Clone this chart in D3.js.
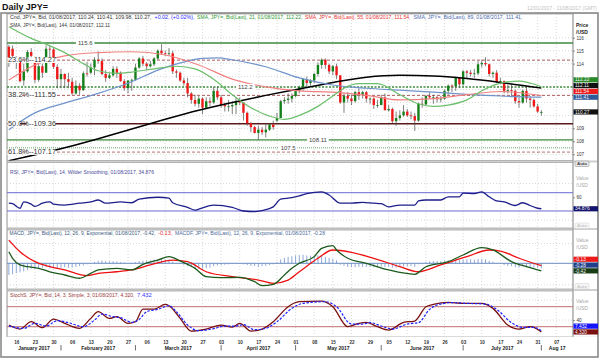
<!DOCTYPE html>
<html><head><meta charset="utf-8">
<script src="https://cdn.jsdelivr.net/npm/d3@7"></script>
<style>body{margin:0;background:#fff}svg{display:block;font-family:"Liberation Sans",Arial,sans-serif}</style>
</head><body><svg id="c" width="600" height="360"></svg>
<script>
// ---------------- DATA ----------------
// daily candles, 12 Jan 2017 .. 1 Aug 2017 (weekdays), index 0 = 12 Jan
const dayOpen  = [115.30,115.15,114.40,114.15,112.70,113.40,114.90,114.20,112.75,113.80,113.30,115.15,115.10,113.75,112.80,113.20,112.80,112.60,111.70,112.30,111.95,113.25,113.30,113.70,114.30,114.20,113.20,112.90,113.10,113.60,113.30,112.65,112.10,112.70,112.75,113.70,114.40,114.00,113.80,113.95,114.40,115.00,114.80,114.75,114.80,113.40,113.30,112.70,112.50,111.70,111.20,110.90,111.30,110.60,111.10,111.00,111.90,111.40,110.80,110.70,110.70,110.80,111.10,111.00,110.20,109.40,109.10,108.65,108.90,108.70,108.90,109.30,109.60,109.80,111.10,111.20,111.30,111.50,111.90,112.20,112.80,112.50,112.70,113.20,113.90,114.30,113.90,113.40,113.80,113.10,111.00,111.50,111.30,111.10,111.80,111.60,111.80,111.30,111.30,110.80,110.80,111.40,110.40,110.50,109.55,109.80,110.00,110.30,110.00,109.95,109.60,110.90,110.85,111.50,111.40,111.40,111.25,111.30,111.90,112.30,112.25,112.90,112.40,113.40,113.30,113.20,113.25,113.95,114.05,113.95,113.20,113.30,112.60,112.65,111.90,111.95,111.90,111.10,111.00,111.90,111.30,111.20,110.70,110.24];
const dayHigh  = [115.45,115.40,114.55,114.30,114.00,115.05,115.20,114.30,114.00,114.00,115.40,115.40,115.20,113.95,113.60,113.25,113.30,112.90,112.70,112.50,113.40,114.15,114.00,114.50,114.95,114.40,113.50,113.30,113.80,113.80,113.40,112.80,112.70,112.85,114.00,114.50,114.60,114.10,114.20,114.50,115.10,115.50,115.00,115.20,115.00,113.55,113.40,112.90,112.90,111.80,111.60,111.50,111.40,111.40,111.40,112.20,112.20,111.60,111.00,111.20,111.10,111.40,111.40,111.00,110.30,109.50,109.20,109.20,109.10,109.40,109.40,109.60,110.20,111.20,111.40,111.70,111.70,112.00,112.30,112.90,113.00,112.80,113.30,114.10,114.40,114.40,114.00,113.90,114.00,113.10,111.70,111.80,111.60,111.90,112.10,111.90,111.90,111.40,111.40,111.20,111.60,111.70,110.80,110.60,110.30,110.40,110.80,110.50,110.30,110.20,111.00,111.40,111.60,111.80,111.60,111.50,111.50,112.00,112.40,112.40,113.00,112.90,113.50,113.50,113.50,113.60,114.20,114.30,114.50,114.00,113.40,113.50,112.90,112.70,112.40,112.40,112.00,111.40,112.00,112.20,111.50,111.30,110.90,110.41];
const dayLow   = [113.75,114.20,113.60,112.55,112.30,113.30,114.20,112.50,112.60,112.90,113.30,114.50,113.60,112.10,112.10,112.10,112.10,111.60,111.60,111.60,111.90,113.00,113.20,113.10,114.00,113.10,112.60,112.80,113.00,112.90,112.60,111.90,111.70,111.90,112.70,113.60,113.80,113.50,113.70,113.80,114.30,114.70,114.60,114.60,113.20,112.90,112.60,112.30,111.40,110.90,110.70,110.60,110.10,110.50,110.70,110.90,111.20,110.60,110.30,110.30,110.10,110.10,110.80,109.60,109.20,108.70,108.60,108.13,108.50,108.30,108.80,108.90,109.50,109.80,110.90,110.90,111.00,111.40,111.70,111.90,112.20,112.30,112.50,113.00,113.60,113.60,113.20,113.10,112.80,110.90,110.20,111.00,110.80,111.00,111.20,111.30,111.00,110.90,110.50,110.60,110.80,110.40,110.30,109.40,109.20,109.60,109.90,109.90,109.70,108.80,109.50,110.60,110.80,111.30,110.90,111.00,111.00,111.20,111.60,111.80,111.90,112.10,112.30,112.90,113.00,112.90,113.10,113.70,113.80,113.00,112.90,112.50,112.40,111.70,111.70,111.40,110.90,110.60,110.90,111.00,110.60,110.60,110.20,109.98];
const dayClose = [114.45,114.60,114.15,112.65,113.40,114.90,114.60,112.75,113.80,113.30,115.15,115.10,113.75,112.80,113.20,112.80,112.60,111.70,112.30,111.95,113.25,113.20,113.70,114.30,114.20,113.20,112.90,113.10,113.60,113.30,112.65,112.10,112.70,112.75,113.70,114.40,114.00,113.80,113.95,114.40,115.00,114.80,114.75,114.80,113.40,113.30,112.70,112.50,111.70,111.20,110.90,111.30,110.60,111.10,111.00,111.90,111.40,110.80,110.70,110.70,110.80,111.10,111.00,110.20,109.40,109.10,108.65,108.90,108.70,108.90,109.30,109.10,109.80,111.10,111.20,111.30,111.50,111.90,112.20,112.80,112.50,112.70,113.20,113.90,114.30,113.90,113.40,113.80,113.10,111.00,111.50,111.30,111.10,111.80,111.60,111.80,111.30,111.30,110.80,110.80,111.40,110.40,110.50,109.55,109.80,110.00,110.30,110.00,109.95,109.60,110.90,110.85,111.50,111.40,111.40,111.25,111.30,111.90,112.30,112.25,112.90,112.40,113.40,113.30,113.20,113.25,113.95,114.05,113.95,113.20,113.30,112.60,112.65,111.90,111.95,111.90,111.10,111.00,111.90,111.30,111.20,110.70,110.30,110.27];

// moving averages: [day index, value]
const sma21  = [[0,116.85],[6,115.95],[10,115.5],[15,114.85],[20,114.0],[24,113.45],[29,113.25],[33,113.35],[39,113.6],[45,113.8],[50,113.6],[55,112.8],[60,111.6],[65,110.6],[70,109.95],[74,109.7],[78,110.0],[83,110.7],[87,111.5],[90,112.1],[94,112.45],[99,112.45],[105,111.6],[110,110.9],[114,110.7],[118,110.8],[123,111.2],[127,111.9],[132,112.5],[137,112.65],[143,112.22]];
const sma55  = [[0,112.74],[7,113.9],[15,114.6],[24,114.85],[33,114.92],[42,114.67],[51,113.9],[60,112.8],[69,112.2],[78,111.9],[87,111.8],[96,111.55],[105,111.2],[114,111.3],[123,111.6],[132,111.85],[143,111.54]];
const sma89  = [[0,108.9],[7,110.2],[15,110.95],[24,111.7],[33,112.6],[40,113.5],[48,114.2],[52,114.4],[56,114.45],[60,114.3],[69,113.76],[78,112.9],[87,112.35],[96,112.1],[105,111.95],[114,111.8],[123,111.63],[132,111.5],[143,111.41]];
const sma144 = [[0,106.5],[15,107.5],[24,108.2],[33,108.95],[42,109.7],[51,110.4],[60,111.0],[69,111.55],[78,112.05],[87,112.55],[96,112.95],[105,113.1],[114,113.05],[123,112.85],[132,112.55],[143,112.11]];

// horizontal levels
const levelValues = [115.6, 114.27, 112.2, 111.55, 109.36, 108.11, 107.5, 107.17];
const fibText = ["23.6%--114.27","38.2%--111.55","50.0%--109.36","61.8%--107.17"];
const fibValues = [114.27, 111.55, 109.36, 107.17];
const tagText = ["115.6","112.2","108.11","107.5"];
const tagValues = [115.6, 112.2, 108.11, 107.5];
const tagDay = [20.5, 63.5, 83, 75];

// RSI
const rsi = [[0,47],[1,46],[3,36],[4,50],[6,45],[7,40],[9,47],[11,50],[12,45],[15,43],[19,47],[22,50],[24,54],[26,47],[30,50],[33,48],[35,56],[40,60],[43,58],[44,48],[48,38],[50,32],[51,34],[55,43],[60,38],[63,30],[66,28.5],[68,31],[71,39],[73,56],[76,59],[78,63],[80,68],[84,72],[86,65],[89,47],[92,47],[95,49],[98,47],[100,46],[102,39],[105,43],[109,43],[110,52],[112,54],[116,54],[118,61],[121,61],[122,69],[125,68],[127,72],[129,61],[131,52],[133,50],[136,42],[138,48],[140,42],[142,36],[143,34.876]];
const rsiBands = [70, 30];

// MACD
const macd = [[0,0.64],[1,0.28],[3,-0.09],[5,-0.19],[8,-0.28],[11,-0.47],[15,-0.65],[19,-0.83],[22,-0.56],[24,-0.37],[29,-0.28],[33,-0.37],[36,-0.06],[40,0.18],[43,0.37],[46,0.13],[50,-0.28],[53,-0.74],[57,-0.8],[62,-0.78],[66,-1.02],[68,-1.24],[71,-1.17],[74,-0.65],[76,-0.28],[78,0],[82,0.37],[84,0.83],[87,0.98],[88,0.74],[91,0.28],[96,0],[102,-0.37],[109,-0.61],[112,-0.19],[118,0.09],[122,0.46],[127,0.87],[130,0.74],[135,0.09],[139,-0.19],[143,-0.42]];
const macdSignal = [[0,1.29],[3,0.64],[7,0.09],[11,-0.19],[15,-0.37],[21,-0.69],[24,-0.56],[29,-0.47],[33,-0.37],[38,-0.09],[44,0.18],[48,0.09],[53,-0.47],[60,-0.74],[67,-0.93],[71,-1.11],[75,-0.93],[78,-0.47],[83,0.28],[87,0.74],[92,0.61],[98,0.28],[105,-0.19],[110,-0.47],[116,-0.09],[123,0.37],[129,0.74],[132,0.68],[137,0.28],[143,-0.13]];
const macdHist = [-0.65,-0.6,-0.55,-0.5,-0.45,-0.38,-0.3,-0.32,-0.28,-0.25,-0.22,-0.28,-0.26,-0.27,-0.25,-0.22,-0.24,-0.24,-0.2,-0.16,-0.12,-0.06,0.0,0.08,0.14,0.16,0.12,0.1,0.12,0.1,0.06,0.04,0.0,0.02,0.06,0.12,0.14,0.15,0.16,0.2,0.24,0.24,0.22,0.2,0.1,0.02,-0.04,-0.1,-0.16,-0.22,-0.26,-0.3,-0.3,-0.28,-0.24,-0.16,-0.12,-0.1,-0.08,-0.06,-0.04,-0.04,-0.02,-0.06,-0.1,-0.14,-0.15,-0.2,-0.16,-0.14,-0.1,-0.06,0.06,0.22,0.3,0.36,0.4,0.44,0.46,0.47,0.44,0.42,0.42,0.44,0.42,0.36,0.3,0.24,0.16,-0.08,-0.14,-0.2,-0.22,-0.22,-0.2,-0.2,-0.2,-0.2,-0.22,-0.22,-0.18,-0.2,-0.2,-0.24,-0.24,-0.22,-0.18,-0.16,-0.16,-0.2,-0.06,0.02,0.08,0.1,0.12,0.12,0.12,0.14,0.16,0.16,0.2,0.18,0.22,0.22,0.22,0.2,0.24,0.24,0.22,0.14,0.08,0.02,-0.02,-0.1,-0.14,-0.16,-0.22,-0.24,-0.16,-0.18,-0.2,-0.24,-0.26,-0.28];

// Slow stochastic
const stochK = [[0,25],[3,13],[6,35],[9,17],[12,43],[15,30],[19,15],[22,45],[24,65],[27,45],[29,50],[32,30],[34,35],[36,73],[39,73],[42,87],[43,83],[46,45],[49,7],[53,13],[57,25],[60,19],[62,30],[65,7],[68,13],[71,35],[75,80],[78,95],[84,97],[87,80],[91,20],[94,30],[96,33],[99,20],[102,10],[106,33],[109,37],[112,80],[114,87],[118,93],[122,90],[127,90],[130,75],[134,25],[137,13],[140,20],[143,4.32]];
const stochD = [[0,22],[4,15],[7,30],[10,22],[13,38],[16,32],[20,20],[23,40],[25,58],[28,50],[30,47],[33,33],[35,42],[37,65],[40,72],[43,83],[45,65],[48,25],[51,8],[55,14],[58,22],[61,22],[63,26],[66,11],[69,15],[72,35],[76,75],[79,90],[85,95],[88,80],[92,28],[95,28],[97,32],[100,22],[103,13],[107,28],[110,32],[113,72],[115,85],[119,92],[123,90],[128,88],[131,72],[135,32],[138,18],[141,18],[143,7.432]];
const stochBands = [80, 20];

// x axis
const tickLabels = ["16","23","30","06","13","20","27","06","13","20","27","03","10","17","24","01","08","15","22","29","05","12","19","26","03","10","17","24","31","07"];
const monthNames = ["January 2017","February 2017","March 2017","April 2017","May 2017","June 2017","July 2017","Aug 17"];
const monthStart = [-0.5, 14, 34, 57, 77, 100, 122, 143];
const priceTicks = [107,108,109,110,111,112,113,114,115,116];

// ---------------- DRAW ----------------
const svg = d3.select('#c');
const X0 = 7, X1 = 573;
const x = d3.scaleLinear().domain([-0.5, 151.5]).range([X0, X1]);
const P = {main:[14,160.5], rsi:[162.5,228], macd:[230,289], sto:[291,336.5]};
const yM = d3.scaleLinear().domain([106.52, 117.834]).range([P.main[1], P.main[0]]);
const yR = d3.scaleLinear().domain([-7.16, 137.1]).range([228, 162]);
const yC = d3.scaleLinear().domain([-1.428, 1.85]).range([289, 230]);
const yS = d3.scaleLinear().domain([-9.4, 127.1]).range([336.5, 291]);
const N = dayClose.length;
const mondays = tickLabels.map((_, k) => 2 + 5 * k);

svg.append('rect').attr('width',600).attr('height',360).attr('fill','#fff');
svg.append('rect').attr('x',1).attr('y',13).attr('width',597).attr('height',324).attr('fill','#cfcfcf');
Object.entries(P).forEach(([k,[a,b]]) => {
  svg.append('rect').attr('x',X0).attr('y',a).attr('width',X1-X0).attr('height',b-a).attr('fill','#fff').attr('stroke','#a6a6a6').attr('stroke-width',0.8);
  svg.append('rect').attr('x',X1+0.5).attr('y',a).attr('width',597.5-X1-0.5).attr('height',b-a).attr('fill','#fff');
  svg.append('clipPath').attr('id','cp_'+k).append('rect').attr('x',X0).attr('y',a).attr('width',X1-X0).attr('height',b-a);
});
svg.append('rect').attr('x',1.5).attr('y',336.5).attr('width',596).attr('height',20).attr('fill','#fff');
svg.append('rect').attr('x',1.5).attr('y',13).attr('width',5.2).attr('height',343.5).attr('fill','#fff');
svg.append('line').attr('x1',X1).attr('x2',X1).attr('y1',13).attr('y2',337).attr('stroke','#9a9a9a').attr('stroke-width',0.9);
svg.append('line').attr('x1',X0).attr('x2',X0).attr('y1',13).attr('y2',337).attr('stroke','#a6a6a6').attr('stroke-width',0.9);
svg.append('rect').attr('x',1).attr('y',13).attr('width',597).attr('height',344).attr('fill','none').attr('stroke','#8a8a8a').attr('stroke-width',1.6);

// grids
Object.entries(P).forEach(([k,[a,b]]) => {
  svg.append('g').selectAll('line').data(mondays).join('line')
    .attr('x1',d=>x(d)).attr('x2',d=>x(d)).attr('y1',a).attr('y2',b)
    .attr('stroke','#c9c9c9').attr('stroke-width',0.7).attr('stroke-dasharray','1,2');
});
function hgrid(vals, sc){
  svg.append('g').selectAll('line').data(vals).join('line')
    .attr('x1',X0).attr('x2',X1).attr('y1',d=>sc(d)).attr('y2',d=>sc(d))
    .attr('stroke','#c9c9c9').attr('stroke-width',0.7).attr('stroke-dasharray','1,2');
}
hgrid(priceTicks, yM); hgrid([90,10], yR); hgrid([1.1,-1.2], yC); hgrid([100,40], yS);

// ---- main panel
const gM = svg.append('g').attr('clip-path','url(#cp_main)');
const levelStyle = [
  {c:'#3d8a3d',w:1.4,d:null},{c:'#a04a4a',w:0.9,d:'3,2'},{c:'#3d8a3d',w:1.5,d:'2,1.5'},{c:'#a04a4a',w:0.9,d:'3,2'},
  {c:'#5a1818',w:1.3,d:null},{c:'#3d8a3d',w:1.4,d:null},{c:'#9cc49c',w:1.5,d:'1,1'},{c:'#b06060',w:0.9,d:'3,2'}];
gM.selectAll('line.lvl').data(levelValues).join('line').attr('class','lvl')
  .attr('x1',X0).attr('x2',X1).attr('y1',d=>yM(d)).attr('y2',d=>yM(d))
  .attr('stroke',(d,i)=>levelStyle[i].c).attr('stroke-width',(d,i)=>levelStyle[i].w)
  .attr('stroke-dasharray',(d,i)=>levelStyle[i].d);

const idx = d3.range(N);
const bw = 2.4;
gM.selectAll('line.wick').data(idx).join('line').attr('class','wick')
  .attr('x1',i=>x(i)).attr('x2',i=>x(i)).attr('y1',i=>yM(dayHigh[i])).attr('y2',i=>yM(dayLow[i]))
  .attr('stroke','#4a4a4a').attr('stroke-width',0.7);
gM.selectAll('rect.body').data(idx).join('rect').attr('class','body')
  .attr('x',i=>x(i)-bw/2).attr('width',bw)
  .attr('y',i=>yM(Math.max(dayOpen[i],dayClose[i])))
  .attr('height',i=>Math.max(0.8, Math.abs(yM(dayOpen[i])-yM(dayClose[i]))))
  .attr('fill',i=>dayClose[i]>=dayOpen[i]?'#15801a':'#ee1a1a');

const lineFn = sc => d3.line().x(d=>x(d[0])).y(d=>sc(d[1])).curve(d3.curveMonotoneX);
[[sma144,'#000',1.5],[sma89,'#7094cc',1.2],[sma55,'#f28080',1.2],[sma21,'#6cbf6c',1.2]].forEach(([s,c,w])=>{
  gM.append('path').attr('d',lineFn(yM)(s)).attr('fill','none').attr('stroke',c).attr('stroke-width',w);
});

// labels on levels
fibText.forEach((t,i)=>{
  const cy = yM(fibValues[i]);
  svg.append('rect').attr('x',7.5).attr('y',cy-2.8).attr('width',12.5).attr('height',5.6).attr('fill','#fff');
  svg.append('rect').attr('x',26.5).attr('y',cy-2.8).attr('width',29).attr('height',5.6).attr('fill','#fff');
  svg.append('text').attr('x',8).attr('y',cy+2.1).attr('font-size',6.4).attr('fill','#333')
    .attr('textLength',48).attr('lengthAdjust','spacingAndGlyphs').text(t);
});
tagText.forEach((t,i)=>{
  const cx = x(tagDay[i]), cy = yM(tagValues[i]);
  const w = t.length*3.1+3;
  svg.append('rect').attr('x',cx-w/2).attr('y',cy-3).attr('width',w).attr('height',6).attr('fill','#fff');
  svg.append('text').attr('x',cx).attr('y',cy+2).attr('text-anchor','middle').attr('font-size',6).attr('fill','#444').text(t);
});

// ---- RSI
const gR = svg.append('g').attr('clip-path','url(#cp_rsi)');
gR.selectAll('line').data(rsiBands).join('line').attr('x1',X0).attr('x2',X1).attr('y1',d=>yR(d)).attr('y2',d=>yR(d))
  .attr('stroke','#6b6bd4').attr('stroke-width',1);
gR.append('path').attr('d',lineFn(yR)(rsi)).attr('fill','none').attr('stroke','#1e1e8a').attr('stroke-width',1.3);

// ---- MACD
const gC = svg.append('g').attr('clip-path','url(#cp_macd)');
gC.selectAll('line.h').data(macdHist).join('line').attr('class','h')
  .attr('x1',(d,i)=>x(i)).attr('x2',(d,i)=>x(i)).attr('y1',yC(0)).attr('y2',d=>yC(d))
  .attr('stroke','#8ea8d6').attr('stroke-width',1);
gC.append('line').attr('x1',X0).attr('x2',X1).attr('y1',yC(0)).attr('y2',yC(0)).attr('stroke','#6a8cc0').attr('stroke-width',1);
gC.append('path').attr('d',lineFn(yC)(macdSignal)).attr('fill','none').attr('stroke','#ee1111').attr('stroke-width',1.3);
gC.append('path').attr('d',lineFn(yC)(macd)).attr('fill','none').attr('stroke','#1c5a1c').attr('stroke-width',1.3);

// ---- Stoch
const gS = svg.append('g').attr('clip-path','url(#cp_sto)');
gS.selectAll('line').data(stochBands).join('line').attr('x1',X0).attr('x2',X1).attr('y1',d=>yS(d)).attr('y2',d=>yS(d))
  .attr('stroke','#c07070').attr('stroke-width',1);
gS.append('path').attr('d',lineFn(yS)(stochK)).attr('fill','none').attr('stroke','#7a1010').attr('stroke-width',1.3);
gS.append('path').attr('d',lineFn(yS)(stochD)).attr('fill','none').attr('stroke','#2020ff').attr('stroke-width',1.2).attr('stroke-dasharray','2.5,1.5');

// ---- headers
function seg(y, parts, size){
  parts.forEach(([t,x0,x1,c])=>{
    svg.append('text').attr('x',x0).attr('y',y).attr('font-size',size||5).attr('fill',c)
      .attr('textLength',x1-x0).attr('lengthAdjust','spacingAndGlyphs').text(t);
  });
}
svg.append('text').attr('x',2).attr('y',9.6).attr('font-size',9).attr('font-weight','bold').attr('fill','#111')
  .attr('textLength',46).attr('lengthAdjust','spacingAndGlyphs').text('Daily JPY=');
seg(9.8, [['12/01/2017 - 11/08/2017 (GMT)',527,597,'#c2c2c2']], 5.2);
seg(18.6, [
  ['Cnd, JPY=, Bid, 01/08/2017, 110.24, 110.41, 109.98, 110.27,',10,151.5,'#333'],
  ['+0.02, (+0.02%),',154.5,194.5,'#2b2bff'],
  ['SMA, JPY=, Bid(Last), 21, 01/08/2017, 112.22,',197,302.5,'#2f9a2f'],
  ['SMA, JPY=, Bid(Last), 55, 01/08/2017, 111.54,',305,410.5,'#e83030'],
  ['SMA, JPY=, Bid(Last), 89, 01/08/2017, 111.41,',413.5,522.5,'#4a6ab0']]);
seg(26.5, [['SMA, JPY=, Bid(Last), 144, 01/08/2017, 112.11',10,110,'#333']]);
seg(174.2, [['RSI, JPY=, Bid(Last), 14, Wilder Smoothing, 01/08/2017, 34.876',10,154,'#4a4a9a']]);
seg(235.2, [
  ['MACD, JPY=, Bid(Last), 12, 26, 9, Exponential, 01/08/2017, -0.42,',9.5,155.5,'#3a5a80'],
  ['-0.13,',158,172.5,'#e83030'],
  ['MACDF, JPY=, Bid(Last), 12, 26, 9, Exponential, 01/08/2017, -0.28',175,325,'#4a6a9a']]);
seg(296.8, [
  ['StochS, JPY=, Bid, 14, 3, Simple, 3, 01/08/2017, 4.320,',10,134.5,'#9a3a3a'],
  ['7.432',137,151.7,'#3a3aff']]);

// ---- right axes: value boxes first computed, ticks hidden under them skipped
function stack(items, sc){
  items.forEach(d=>d.y=sc(d.v));
  items.sort((a,b)=>b.y-a.y);
  for(let i=1;i<items.length;i++) items[i].y=Math.min(items[i].y, items[i-1].y-5.8);
  return items;
}
const mainBoxes = stack([{v:112.22,t:'112.22',c:'#2a8a2a'},{v:112.11,t:'112.11',c:'#111'},{v:111.54,t:'111.54',c:'#ee1a1a'},{v:111.41,t:'111.41',c:'#2f5a9a'}], yM)
  .concat(stack([{v:dayClose[N-1],t:'110.27',c:'#111'}], yM));
const rsiBoxes = stack([{v:34.876,t:'34.876',c:'#14146e'}], yR);
const macdBoxes = stack([{v:-0.13,t:'-0.13',c:'#ee1a1a'},{v:-0.28,t:'-0.28',c:'#1f3f8a'},{v:-0.42,t:'-0.42',c:'#173d17'}], yC);
const stoBoxes = stack([{v:7.432,t:'7.432',c:'#1414ff'},{v:4.32,t:'4.320',c:'#7a1010'}], yS);

function rAxis(sc, vals, fmt, boxesList){
  const free = vals.filter(v=>boxesList.every(b=>Math.abs(sc(v)-b.y)>5.6));
  const g = svg.append('g').attr('transform',`translate(${X1},0)`)
    .call(d3.axisRight(sc).tickValues(free).tickSize(2).tickPadding(1.5).tickFormat(fmt));
  g.select('.domain').remove();
  g.selectAll('text').attr('font-size',4.6).attr('fill','#333').attr('font-family','Liberation Sans, Arial');
  g.selectAll('line').attr('stroke','#555').attr('stroke-width',0.6);
}
rAxis(yM, priceTicks, d3.format('d'), mainBoxes);
rAxis(yR, [60,40], d3.format('d'), rsiBoxes);
rAxis(yC, [0.5,-0.5], d=>d, macdBoxes);
rAxis(yS, [40], d3.format('d'), stoBoxes);

function drawBoxes(items){
  items.forEach(d=>{
    svg.append('rect').attr('x',X1+0.5).attr('y',d.y-2.6).attr('width',24.5).attr('height',5.2).attr('fill',d.c);
    svg.append('text').attr('x',X1+2).attr('y',d.y+1.7).attr('font-size',4.8).attr('fill','#f4f4f4').text(d.t);
  });
}
[mainBoxes, rsiBoxes, macdBoxes, stoBoxes].forEach(drawBoxes);

function axTitle(y, a, b, bold, c){
  svg.append('text').attr('x',576).attr('y',y).attr('font-size',5).attr('font-weight',bold?'bold':'normal').attr('fill',c).text(a);
  svg.append('text').attr('x',576).attr('y',y+7).attr('font-size',5).attr('font-weight',bold?'bold':'normal').attr('fill',c).text(b);
}
axTitle(26.5,'Price','/USD',true,'#222');
axTitle(180,'Value','/USD',false,'#a8a8a8');
axTitle(242,'Value','/USD',false,'#a8a8a8');
axTitle(302.8,'Value','/USD',false,'#a8a8a8');

function autoBtn(y, faint){
  svg.append('rect').attr('x',575).attr('y',y).attr('width',14).attr('height',5.5).attr('rx',1)
    .attr('fill',faint?'#f6f6f6':'#e6e6e6').attr('stroke',faint?'#d0d0d0':'#888').attr('stroke-width',0.5);
  svg.append('text').attr('x',582).attr('y',y+4.3).attr('text-anchor','middle').attr('font-size',4.4)
    .attr('font-weight','bold').attr('fill',faint?'#c8c8c8':'#444').text('Auto');
}
autoBtn(161,false); autoBtn(223,true); autoBtn(283.5,true);

// ---- bottom axis
const gx = svg.append('g').attr('transform','translate(0,337)')
  .call(d3.axisBottom(x).tickValues(mondays).tickSize(0).tickPadding(3.5).tickFormat((d,i)=>tickLabels[i]));
gx.select('.domain').remove();
gx.selectAll('text').attr('font-size',4.6).attr('font-weight','bold').attr('fill','#333').attr('font-family','Liberation Sans, Arial');
const mEnd = monthStart.slice(1).concat([151.5]);
svg.append('g').selectAll('text').data(monthNames).join('text')
  .attr('x',(d,i)=>(x(monthStart[i])+x(mEnd[i]))/2).attr('y',349.6).attr('text-anchor','middle')
  .attr('font-size',5).attr('font-weight','bold').attr('fill','#222').text(d=>d);
svg.append('g').selectAll('line').data(monthStart.slice(1)).join('line')
  .attr('x1',d=>x(d)).attr('x2',d=>x(d)).attr('y1',345).attr('y2',350.5).attr('stroke','#333').attr('stroke-width',0.7);
</script></body></html>
